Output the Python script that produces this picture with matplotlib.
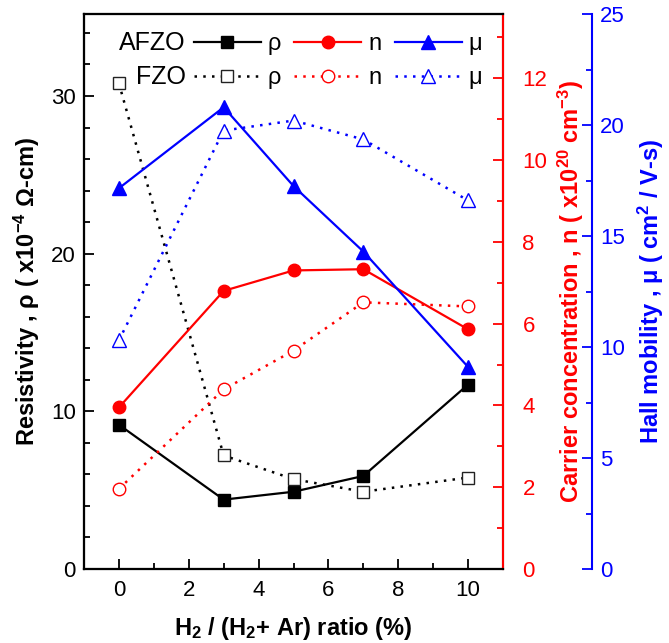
import matplotlib
matplotlib.use('Agg')
import matplotlib.pyplot as plt
from matplotlib.ticker import MultipleLocator

plt.rcParams['font.family'] = ['Liberation Sans', 'DejaVu Sans']
plt.rcParams['mathtext.default'] = 'regular'

# H2 / (H2 + Ar) ratio (%)
ratio = [0, 3, 5, 7, 10]

# resistivity (x10^-4 ohm-cm)
rho_afzo = [9.15, 4.4, 4.9, 5.9, 11.7]
rho_fzo = [30.8, 7.2, 5.7, 4.9, 5.8]

# carrier concentration (x10^20 cm^-3)
n_afzo = [3.95, 6.8, 7.3, 7.33, 5.86]
n_fzo = [1.96, 4.39, 5.34, 6.52, 6.42]

# hall mobility (cm^2 / V-s)
mu_afzo = [17.15, 20.8, 17.25, 14.3, 9.1]
mu_fzo = [10.3, 19.75, 20.2, 19.35, 16.6]

RED = '#ff0000'
BLUE = '#0000ff'
FS_TICK = 16
FS_LABEL = 17
DOT = (0, (1, 2.5))

fig = plt.figure(figsize=(6.69, 6.43), dpi=100)
ax = fig.add_axes([84 / 669, 1 - 569 / 643, 419 / 669, 555 / 643])
ax_n = ax.twinx()
ax_mu = ax.twinx()
ax_mu.spines['right'].set_position(('axes', 1.212))

ms = 8
lw = 1.6
l1, = ax.plot(ratio, rho_afzo, '-', color='black', marker='s', ms=ms, lw=lw)
l2, = ax.plot(ratio, rho_fzo, ls=DOT, color='black', marker='s', ms=ms, lw=1.8,
              mfc='white', mec='#222222', mew=1.0)
l3, = ax_n.plot(ratio, n_afzo, '-', color=RED, marker='o', ms=ms + 1, lw=lw)
l4, = ax_n.plot(ratio, n_fzo, ls=DOT, color=RED, marker='o', ms=ms + 1, lw=1.8,
                mfc='white', mew=1.0)
l5, = ax_mu.plot(ratio, mu_afzo, '-', color=BLUE, marker='^', ms=ms + 2, lw=lw)
l6, = ax_mu.plot(ratio, mu_fzo, ls=DOT, color=BLUE, marker='^', ms=ms + 2, lw=1.8,
                 mfc='white', mew=1.0)

ax.set_xlim(-1, 11)
ax.set_ylim(0, 35.2)
ax_n.set_ylim(0, 13.57)
ax_mu.set_ylim(0, 25)

ax.xaxis.set_major_locator(MultipleLocator(2))
ax.xaxis.set_minor_locator(MultipleLocator(1))
ax.yaxis.set_major_locator(MultipleLocator(10))
ax.yaxis.set_minor_locator(MultipleLocator(2))
ax_n.yaxis.set_major_locator(MultipleLocator(2))
ax_n.yaxis.set_minor_locator(MultipleLocator(1))
ax_mu.yaxis.set_major_locator(MultipleLocator(5))
ax_mu.yaxis.set_minor_locator(MultipleLocator(2.5))

for a in (ax, ax_n, ax_mu):
    for s in a.spines.values():
        s.set_linewidth(1.5)

ax.tick_params(which='both', direction='in', labelsize=FS_TICK, width=1.3, top=False)
ax.tick_params(which='major', length=7)
ax.tick_params(which='minor', length=4)
ax.tick_params(axis='x', pad=8)
ax.tick_params(axis='y', pad=6)

ax_n.spines['right'].set_color(RED)
ax_n.tick_params(axis='y', which='both', direction='in', colors=RED,
                 labelsize=FS_TICK, width=1.3, pad=14)
ax_n.tick_params(axis='y', which='major', length=7)
ax_n.tick_params(axis='y', which='minor', length=4)

ax_mu.spines['right'].set_color(BLUE)
ax_mu.tick_params(axis='y', which='both', direction='in', colors=BLUE,
                  labelsize=FS_TICK, width=1.3, pad=6)
ax_mu.tick_params(axis='y', which='major', length=7)
ax_mu.tick_params(axis='y', which='minor', length=4)

ax.set_xlabel('H$_2$ / (H$_2$+ Ar) ratio (%)', fontsize=FS_LABEL, fontweight='bold',
              labelpad=10)
ax.set_ylabel('Resistivity , \u03c1 ( x10$^{-4}$ \u03a9-cm)', fontsize=FS_LABEL,
              fontweight='bold', labelpad=6)
ax_n.set_ylabel('Carrier concentration , n ( x10$^{20}$ cm$^{-3}$)', fontsize=FS_LABEL,
                fontweight='bold', color=RED, labelpad=6)
ax_mu.set_ylabel('Hall mobility , \u03bc ( cm$^2$ / V-s)', fontsize=FS_LABEL,
                 fontweight='bold', color=BLUE, labelpad=8)

leg = ax_mu.legend([l1, l2, l3, l4, l5, l6],
                   ['\u03c1', '\u03c1', 'n', 'n', '\u03bc', '\u03bc'],
                   ncol=3, loc='upper left', bbox_to_anchor=(0.262, 0.965),
                   frameon=False, fontsize=17, handlelength=2.84,
                   handletextpad=0.3, columnspacing=0.55, labelspacing=0.5,
                   borderpad=0, borderaxespad=0)
ax_mu.text(0.243, 0.948, 'AFZO', transform=ax_mu.transAxes, ha='right',
           va='center', fontsize=18)
ax_mu.text(0.243, 0.886, 'FZO', transform=ax_mu.transAxes, ha='right',
           va='center', fontsize=18)

fig.savefig('out.png', dpi=100)
